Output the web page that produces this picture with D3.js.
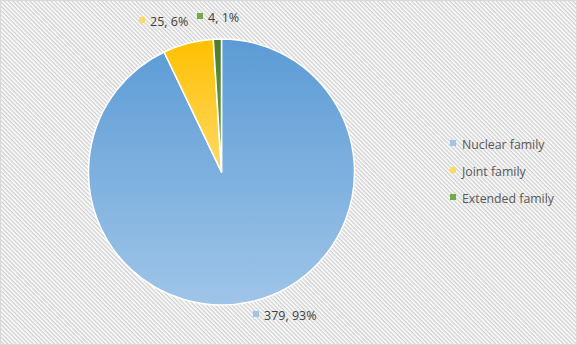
<!DOCTYPE html>
<html>
<head>
<meta charset="utf-8">
<script src="https://cdn.jsdelivr.net/npm/d3@7"></script>
<style>
  body { margin: 0; }
  text { font-family: "Open Sans", "Liberation Sans", sans-serif; }
</style>
</head>
<body>
<svg id="chart"></svg>
<script>
var categories = ["Nuclear family", "Joint family", "Extended family"];
var counts = [379, 25, 4];
var percents = ["93%", "6%", "1%"];
var colorsTop = ["#5b9bd5", "#ffc000", "#4e7a2e"];
var colorsBottom = ["#9fc5e8", "#ffd966", "#70ad47"];

var W = 577, H = 345;
var cx = 221.5, cy = 172, r = 133;

var svg = d3.select("#chart").attr("width", W).attr("height", H);
var defs = svg.append("defs");

// diagonal hatch background (downward diagonal)
var pat = defs.append("pattern")
  .attr("id", "hatch")
  .attr("patternUnits", "userSpaceOnUse")
  .attr("width", 3).attr("height", 3)
  .attr("patternTransform", "rotate(45)");
pat.append("rect").attr("width", 3).attr("height", 3).attr("fill", "#ffffff");
pat.append("rect").attr("width", 3).attr("height", 1.5).attr("fill", "#d2d2d2");

svg.append("rect").attr("width", W).attr("height", H).attr("fill", "url(#hatch)");
svg.append("rect").attr("x", 0.5).attr("y", 0.5).attr("width", W - 1).attr("height", H - 1)
  .attr("fill", "none").attr("stroke", "#d9d9d9");

// each slice gets its own top-to-bottom gradient over its bounding box
categories.forEach(function(c, i){
  var g = defs.append("linearGradient")
    .attr("id", "grad" + i)
    .attr("x1", 0).attr("y1", 0).attr("x2", 0).attr("y2", 1);
  g.append("stop").attr("offset", "0%").attr("stop-color", colorsTop[i]);
  g.append("stop").attr("offset", "100%").attr("stop-color", colorsBottom[i]);
});

var pie = d3.pie().sort(null).value(function(d){ return d; });
var arcs = pie(counts);
var arc = d3.arc().innerRadius(0).outerRadius(r);

var pg = svg.append("g").attr("transform", "translate(" + cx + "," + cy + ")");
pg.selectAll("path")
  .data(arcs)
  .enter().append("path")
  .attr("d", arc)
  .attr("fill", function(d, i){ return "url(#grad" + i + ")"; })
  .attr("stroke", "#ffffff")
  .attr("stroke-width", 1.5)
  .attr("stroke-linejoin", "round");

// data labels
var labelPos = [[264, 320], [150, 26], [208, 22]];
var labels = svg.append("g");
arcs.forEach(function(d, i){
  var p = labelPos[i];
  labels.append("rect")
    .attr("x", p[0] - 11).attr("y", p[1] - 9)
    .attr("width", 6).attr("height", 6)
    .attr("fill", colorsBottom[i]);
  labels.append("text")
    .attr("x", p[0]).attr("y", p[1])
    .attr("font-size", "12.5px")
    .attr("fill", "#404040")
    .text(counts[i] + ", " + percents[i]);
});

// legend
var lg = svg.append("g").attr("transform", "translate(450,145)");
var item = lg.selectAll("g")
  .data(categories)
  .enter().append("g")
  .attr("transform", function(d, i){ return "translate(0," + (i * 27) + ")"; });
item.append("rect")
  .attr("x", 0).attr("y", -5)
  .attr("width", 6).attr("height", 6)
  .attr("fill", function(d, i){ return colorsBottom[i]; });
item.append("text")
  .attr("x", 12).attr("y", 4)
  .attr("font-size", "12.3px")
  .attr("fill", "#595959")
  .text(function(d){ return d; });
</script>
</body>
</html>
